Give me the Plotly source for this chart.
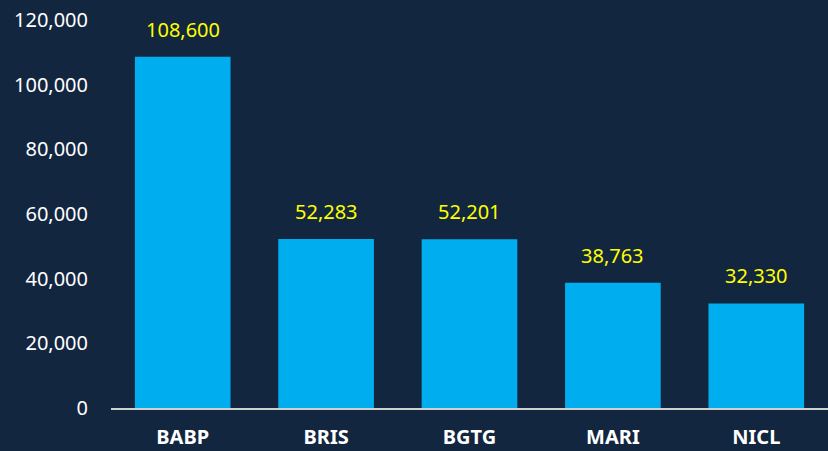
import plotly.graph_objects as go

categories = ["BABP", "BRIS", "BGTG", "MARI", "NICL"]
values = [108600, 52283, 52201, 38763, 32330]
y_ticks = [0, 20000, 40000, 60000, 80000, 100000, 120000]

bg = "#12263f"
bar_color = "#00aeef"
label_color = "#ffff00"
font_family = "Noto Sans"

fig = go.Figure()
fig.add_trace(go.Bar(
    x=categories, y=values, marker=dict(color=bar_color, line=dict(width=0)),
    hoverinfo="skip",
))

for c, v in zip(categories, values):
    fig.add_annotation(
        x=c, y=v, text=f"{v:,}", showarrow=False, yanchor="bottom",
        yshift=12, font=dict(color=label_color, size=20, family=font_family),
    )

fig.update_layout(
    width=828, height=451,
    margin=dict(l=111, r=0, t=20, b=43),
    paper_bgcolor=bg, plot_bgcolor=bg,
    bargap=0.333,
    showlegend=False,
    font=dict(family=font_family, color="white", size=20),
)
fig.update_xaxes(
    showgrid=False, showline=True, linecolor="#d0d0d0", linewidth=2,
    tickfont=dict(size=20, color="white", family=font_family, weight="bold"),
    ticks="", ticklabelstandoff=10,
)
fig.update_yaxes(
    range=[0, 120000], tickvals=y_ticks,
    ticktext=[f"{t:,}" for t in y_ticks],
    showgrid=False, zeroline=False, showline=False,
    tickfont=dict(size=20, color="white", family=font_family),
    ticks="", ticklabelstandoff=22,
)

fig.write_html(
    "out.html",
    config={"displayModeBar": False},
    post_script="document.body.style.margin='0';document.body.style.background='%s';" % bg,
)
